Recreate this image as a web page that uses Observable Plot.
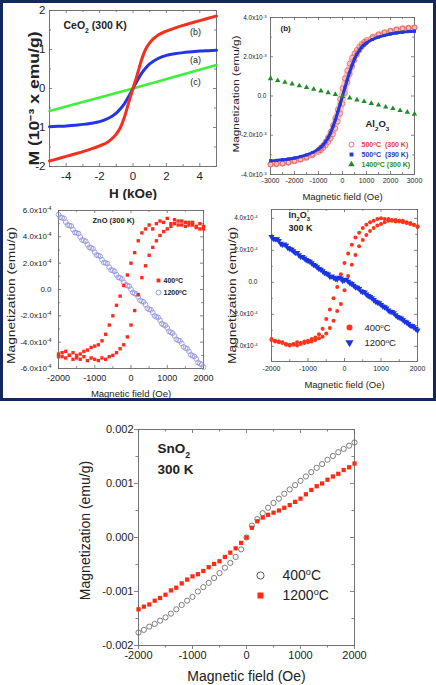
<!DOCTYPE html>
<html><head><meta charset="utf-8">
<script src="https://cdn.jsdelivr.net/npm/d3@7"></script>
<script src="https://cdn.jsdelivr.net/npm/@observablehq/plot@0.6"></script>
<style>
html,body{margin:0;padding:0;background:#fff;}
#wrap{position:relative;width:436px;height:685px;overflow:hidden;font-family:"Liberation Sans",Arial,Helvetica,sans-serif;}
#wrap svg{position:absolute;}
#box{position:absolute;left:0;top:0;width:436px;height:401px;border:3px solid #15285e;box-sizing:border-box;z-index:5;pointer-events:none;}
</style></head><body><div id="wrap"><div id="box"></div></div>
<script>
// ---------------- DATA ----------------
// (1) CeO2 (300 K): H in kOe, M in 1e-3 emu/g
const ceoField   = [-5,-4.5,-4,-3.5,-3,-2.5,-2,-1.5,-1,-0.75,-0.5,-0.25,0,0.25,0.5,0.75,1,1.5,2,2.5,3,3.5,4,4.5,5];
const ceoSampleB = [-1.86,-1.8,-1.74,-1.68,-1.62,-1.55,-1.47,-1.37,-1.17,-1.0,-0.72,-0.35,0,0.35,0.72,1.0,1.17,1.37,1.47,1.55,1.62,1.68,1.74,1.8,1.86];
const ceoSampleA = [-0.98,-0.97,-0.96,-0.94,-0.92,-0.89,-0.85,-0.77,-0.63,-0.52,-0.38,-0.2,0,0.2,0.38,0.52,0.63,0.77,0.85,0.89,0.92,0.94,0.96,0.97,0.98];
const ceoLinField = [-5,-2.5,0,2.5,5];
const ceoSampleC  = [-0.58,-0.29,0,0.3,0.6];
const ceoXTicks = [-4,-2,0,2,4];
const ceoXMinor = [-3,-1,1,3];
const ceoYTicks = [-2,-1,0,1,2];
const ceoYMinor = [-1.5,-0.5,0.5,1.5];

// (2) Al2O3: field in Oe, M in 1e-3 emu/g
const alField = [-3000,-2750,-2500,-2250,-2000,-1750,-1500,-1250,-1000,-900,-800,-700,-600,-500,-400,-300,-200,-100,0,100,200,300,400,500,600,700,800,900,1000,1250,1500,1750,2000,2250,2500,2750,3000];
const al500Down = [-3.48,-3.45,-3.42,-3.37,-3.3,-3.22,-3.1,-2.95,-2.75,-2.63,-2.5,-2.32,-2.1,-1.83,-1.5,-1.12,-0.7,-0.15,0.4,0.9,1.3,1.65,1.95,2.17,2.35,2.52,2.65,2.76,2.85,3.02,3.15,3.25,3.33,3.4,3.45,3.48,3.5];
const al500Up   = [-3.5,-3.48,-3.45,-3.4,-3.33,-3.25,-3.15,-3.02,-2.85,-2.76,-2.65,-2.52,-2.35,-2.17,-1.95,-1.65,-1.3,-0.9,-0.4,0.15,0.7,1.12,1.5,1.83,2.1,2.32,2.5,2.63,2.75,2.95,3.1,3.22,3.3,3.37,3.42,3.45,3.48];
const al390     = [-3.3,-3.28,-3.25,-3.21,-3.16,-3.09,-3.0,-2.88,-2.7,-2.6,-2.48,-2.32,-2.12,-1.88,-1.57,-1.22,-0.83,-0.42,0,0.42,0.83,1.22,1.57,1.88,2.12,2.32,2.48,2.6,2.7,2.88,3.0,3.09,3.16,3.21,3.25,3.28,3.3];
const alTriField = [-3000,-2700,-2400,-2100,-1800,-1500,-1200,-900,-600,-300,0,300,600,900,1200,1500,1800,2100,2400,2700,3000];
const al1400     = [0.88,0.79,0.7,0.62,0.52,0.44,0.35,0.26,0.17,0.08,-0.02,-0.1,-0.2,-0.28,-0.38,-0.46,-0.56,-0.64,-0.74,-0.82,-0.92];
const alXTicks = [-3000,-2000,-1000,0,1000,2000,3000];
const alXMinor = [-2500,-1500,-500,500,1500,2500];
const alYTicks = [-4,-2,0,2,4];
const alYLabels = ["-4.0x10^{-3}","-2.0x10^{-3}","0.0","2.0x10^{-3}","4.0x10^{-3}"];
const alYMinor = [-3,-1,1,3];
const alLegend = ["500^{o}C  (300 K)","500^{o}C  (390 K)","1400^{o}C (300 K)"];

// shared field grids (Oe)
const field41 = [-2000,-1900,-1800,-1700,-1600,-1500,-1400,-1300,-1200,-1100,-1000,-900,-800,-700,-600,-500,-400,-300,-200,-100,0,100,200,300,400,500,600,700,800,900,1000,1100,1200,1300,1400,1500,1600,1700,1800,1900,2000];
const field40 = [-1950,-1850,-1750,-1650,-1550,-1450,-1350,-1250,-1150,-1050,-950,-850,-750,-650,-550,-450,-350,-250,-150,-50,50,150,250,350,450,550,650,750,850,950,1050,1150,1250,1350,1450,1550,1650,1750,1850,1950];

// (3) ZnO (300 K): M in 1e-4 emu/g
const zn1200a = [5.7,5.45,5.12,4.86,4.55,4.3,3.98,3.72,3.4,3.16,2.84,2.58,2.26,2.02,1.7,1.45,1.12,0.88,0.55,0.3,0.02,-0.3,-0.57,-0.9,-1.16,-1.5,-1.75,-2.08,-2.34,-2.68,-2.93,-3.27,-3.52,-3.86,-4.1,-4.45,-4.7,-5.04,-5.28,-5.63,-5.9];
const zn1200b = [5.48,5.4,4.9,4.82,4.33,4.25,3.76,3.66,3.2,3.1,2.62,2.52,2.05,1.96,1.48,1.38,0.92,0.8,0.35,0.25,-0.22,-0.35,-0.82,-0.95,-1.42,-1.55,-2.0,-2.12,-2.6,-2.72,-3.18,-3.32,-3.78,-3.9,-4.36,-4.5,-4.95,-5.08,-5.55,-5.7];
const zn400Down = [-4.9,-5.1,-4.7,-5.0,-4.8,-5.2,-4.9,-4.7,-4.6,-4.4,-4.3,-4.2,-3.9,-3.4,-2.7,-2.0,-1.2,-0.5,0.3,1.1,2.0,2.8,3.7,4.3,4.6,4.9,4.6,5.0,5.2,5.1,5.4,5.0,5.3,4.9,5.2,4.8,5.1,4.9,4.7,5.0,4.6];
const zn400Up   = [-5.1,-4.8,-5.2,-5.0,-5.3,-5.0,-5.3,-5.1,-5.4,-5.2,-5.3,-5.4,-5.2,-5.3,-5.1,-5.0,-4.8,-4.5,-4.2,-3.6,-2.7,-1.6,-0.4,0.9,1.8,2.6,3.2,3.7,4.1,4.4,4.6,4.8,5.0,5.2,4.9,5.1,4.9,5.1,4.8,4.6,4.8];
const oeTicks = [-2000,-1000,0,1000,2000];
const oeMinor = [-1500,-500,500,1500];
const znYTicks = [-6,-4,-2,0,2,4,6];
const znYLabels = ["-6.0x10^{-4}","-4.0x10^{-4}","-2.0x10^{-4}","0.0","2.0x10^{-4}","4.0x10^{-4}","6.0x10^{-4}"];
const znYMinor = [-5,-3,-1,1,3,5];
const tempLegend = ["400^{o}C","1200^{o}C"];

// (4) In2O3 (300 K): M in 1e-4 emu/g
const in1200a = [2.85,2.7,2.6,2.35,2.3,2.1,1.95,1.85,1.6,1.5,1.35,1.2,1.05,0.85,0.7,0.55,0.35,0.3,0.2,0.25,0.15,0.05,-0.1,-0.3,-0.4,-0.6,-0.75,-0.9,-1.1,-1.25,-1.4,-1.55,-1.75,-1.85,-2.05,-2.2,-2.35,-2.5,-2.7,-2.8,-3.0];
const in1200b = [2.72,2.7,2.42,2.38,2.15,2.05,1.85,1.7,1.6,1.4,1.3,1.1,0.95,0.8,0.6,0.5,0.38,0.22,0.3,0.1,0.18,-0.05,-0.2,-0.32,-0.55,-0.62,-0.85,-0.98,-1.2,-1.3,-1.5,-1.62,-1.82,-1.92,-2.15,-2.25,-2.45,-2.6,-2.72,-2.9];
const in400Down = [-3.6,-3.65,-3.7,-3.75,-3.85,-3.9,-3.85,-3.75,-3.8,-3.7,-3.65,-3.55,-3.45,-3.25,-2.9,-2.3,-1.7,-1.0,-0.3,0.5,1.2,1.8,2.35,2.8,3.1,3.4,3.6,3.75,3.85,3.95,4.0,3.95,3.95,3.9,3.8,3.85,3.75,3.7,3.65,3.6,3.5];
const in400Up   = [-3.55,-3.7,-3.75,-3.8,-3.9,-3.95,-3.9,-3.95,-3.85,-3.8,-3.75,-3.7,-3.6,-3.5,-3.4,-3.2,-2.85,-2.4,-1.8,-1.35,-0.5,0.4,1.1,1.7,2.25,2.65,2.95,3.2,3.4,3.55,3.65,3.75,3.85,3.85,3.9,3.8,3.85,3.75,3.7,3.6,3.45];
const inYTicks = [-4,-2,0,2,4];
const inYLabels = ["-4.0x10^{-4}","-2.0x10^{-4}","0.0","2.0x10^{-4}","4.0x10^{-4}"];
const inYMinor = [-3,-1,1,3];

// (5) SnO2 (300 K): M in 1e-3 emu/g
const sn400  = [-1.76,-1.71,-1.65,-1.6,-1.54,-1.48,-1.41,-1.33,-1.25,-1.17,-1.1,-1.0,-0.92,-0.84,-0.75,-0.66,-0.56,-0.47,-0.36,-0.22,0.0,0.22,0.34,0.45,0.55,0.64,0.72,0.81,0.89,0.97,1.05,1.13,1.21,1.29,1.36,1.44,1.51,1.58,1.64,1.7,1.76];
const sn1200 = [-1.33,-1.28,-1.24,-1.17,-1.12,-1.06,-0.98,-0.93,-0.85,-0.78,-0.72,-0.68,-0.62,-0.55,-0.49,-0.44,-0.36,-0.28,-0.2,-0.1,0.0,0.18,0.3,0.37,0.42,0.46,0.5,0.55,0.6,0.66,0.72,0.8,0.88,0.95,1.0,1.07,1.13,1.18,1.25,1.3,1.37];
const snYTicks = [-2,-1,0,1,2];
const snYLabels = ["-0.002","-0.001","0.000","0.001","0.002"];
const snYMinor = [-1.5,-0.5,0.5,1.5];

// ---------------- HELPERS ----------------
const FONT = '"Liberation Sans", Arial, Helvetica, sans-serif';
const INK = "#222";
const FRAME = "#666";
const SVGNS = "http://www.w3.org/2000/svg";
const rows = (xs, ys) => xs.map((x, i) => ({x, y: ys[i]}));
const triDown = {draw(ctx, size) {
  const r = Math.sqrt(size / 1.299);
  ctx.moveTo(0, r); ctx.lineTo(r * 0.866, -r / 2); ctx.lineTo(-r * 0.866, -r / 2); ctx.closePath();
}};

function frameTicks(t, w, h) {
  const st = {stroke: FRAME, strokeWidth: 0.8};
  const m = [];
  for (const [xs, len] of [[t.xMajor, t.major], [t.xMinor, t.minor]]) {
    if (!xs || !xs.length) continue;
    m.push(t.outward
      ? Plot.tickX(xs, {x: d => d, insetTop: h, insetBottom: -len, ...st})
      : Plot.tickX(xs, {x: d => d, insetTop: h - len, ...st}));
    m.push(Plot.tickX(xs, {x: d => d, insetBottom: h - len, ...st}));
  }
  for (const [ys, len] of [[t.yMajor, t.major], [t.yMinor, t.minor]]) {
    if (!ys || !ys.length) continue;
    m.push(t.outward
      ? Plot.tickY(ys, {y: d => d, insetRight: w, insetLeft: -len, ...st})
      : Plot.tickY(ys, {y: d => d, insetRight: w - len, ...st}));
    m.push(Plot.tickY(ys, {y: d => d, insetLeft: w - len, ...st}));
  }
  return m;
}
const note = (s, o) => Plot.text([s], {text: d => d, fill: INK, lineAnchor: "middle", textAnchor: "middle", ...o});
const xLabels = (vals, fs, dy) => Plot.text(vals, {x: d => d, frameAnchor: "bottom", dy, lineAnchor: "middle", textAnchor: "middle", text: d => String(d), fontSize: fs, fill: INK});
const yLabels = (vals, labels, fs, dx) => Plot.text(vals, {y: d => d, frameAnchor: "left", dx, textAnchor: "end", lineAnchor: "middle", text: (d, i) => labels ? labels[i] : String(d), fontSize: fs, fill: INK});
const marker = (o) => Plot.dot([0], {frameAnchor: "top-left", ...o});

function richify(svg) {
  svg.querySelectorAll("text").forEach(t => {
    const s = t.textContent;
    if (!/[\^_]\{/.test(s)) return;
    while (t.firstChild) t.removeChild(t.firstChild);
    const re = /([\^_])\{([^}]*)\}/g; let last = 0, m;
    while ((m = re.exec(s))) {
      if (m.index > last) t.appendChild(document.createTextNode(s.slice(last, m.index)));
      const ts = document.createElementNS(SVGNS, "tspan");
      ts.setAttribute("baseline-shift", m[1] === "^" ? "super" : "sub");
      ts.setAttribute("font-size", "65%");
      ts.textContent = m[2];
      t.appendChild(ts);
      last = re.lastIndex;
    }
    if (last < s.length) t.appendChild(document.createTextNode(s.slice(last)));
  });
}
function stretch(svg, map) {
  svg.querySelectorAll("text").forEach(t => {
    const L = map[t.textContent];
    if (L) {
      t.setAttribute("textLength", L);
      t.setAttribute("lengthAdjust", "spacingAndGlyphs");
      t.setAttribute("text-anchor", "start");
      t.setAttribute("x", -L / 2);
    }
  });
}
function panel(cfg) {
  const [mt, mr, mb, ml] = cfg.margin;
  const w = cfg.width - ml - mr, h = cfg.height - mt - mb;
  const svg = Plot.plot({
    width: cfg.width, height: cfg.height,
    marginTop: mt, marginRight: mr, marginBottom: mb, marginLeft: ml,
    x: {domain: cfg.x, axis: null}, y: {domain: cfg.y, axis: null},
    style: {background: "transparent", fontFamily: FONT, color: INK},
    marks: [...frameTicks(cfg.ticks, w, h), Plot.frame({stroke: FRAME, strokeWidth: 0.9}), ...cfg.marks]
  });
  svg.style.left = cfg.left + "px";
  svg.style.top = cfg.top + "px";
  svg.style.position = "absolute";
  if (cfg.stretch) stretch(svg, cfg.stretch);
  richify(svg);
  document.getElementById("wrap").appendChild(svg);
}

// ---------------- PANEL 1: CeO2 ----------------
panel({
  left: 0, top: 0, width: 218, height: 200, margin: [10, 2, 34, 49],
  x: [-5, 5], y: [-2, 2],
  ticks: {xMajor: ceoXTicks, xMinor: ceoXMinor, yMajor: ceoYTicks, yMinor: ceoYMinor, major: 3, minor: 2},
  stretch: {"M (10\u207B\u00B3 x emu/g)": 134},
  marks: [
    Plot.line(rows(ceoLinField, ceoSampleC), {x: "x", y: "y", stroke: "#3ef03e", strokeWidth: 2.6}),
    Plot.line(rows(ceoField, ceoSampleA), {x: "x", y: "y", stroke: "#2434e6", strokeWidth: 3, curve: "monotone-x"}),
    Plot.line(rows(ceoField, ceoSampleB), {x: "x", y: "y", stroke: "#f2301e", strokeWidth: 3, curve: "monotone-x"}),
    xLabels(ceoXTicks, 11.5, 10),
    yLabels(ceoYTicks, null, 11.5, -4),
    note("H (kOe)", {frameAnchor: "bottom", dy: 27, fontSize: 13.5, fontWeight: "bold"}),
    note("M (10\u207B\u00B3 x emu/g)", {frameAnchor: "left", dx: -15, dy: 10, rotate: -90, fontSize: 14, fontWeight: "bold"}),
    note("CeO_{2} (300 K)", {frameAnchor: "top-left", dx: 14, dy: 15, textAnchor: "start", fontSize: 10.5, fontWeight: "bold"}),
    note("(b)", {frameAnchor: "top-left", dx: 146, dy: 22, fontSize: 9}),
    note("(a)", {frameAnchor: "top-left", dx: 146, dy: 50, fontSize: 9}),
    note("(c)", {frameAnchor: "top-left", dx: 146, dy: 72, fontSize: 9})
  ]
});

// ---------------- PANEL 2: Al2O3 ----------------
panel({
  left: 218, top: 0, width: 218, height: 205, margin: [17, 22, 31, 52],
  x: [-3000, 3000], y: [-4, 4],
  ticks: {xMajor: alXTicks, xMinor: alXMinor, yMajor: alYTicks, yMinor: alYMinor, major: 3, minor: 1.8},
  stretch: {"Magnetization (emu/g)": 117},
  marks: [
    Plot.line(rows(alField, al500Down), {x: "x", y: "y", stroke: "#f6c2c2", strokeWidth: 4.5, curve: "monotone-x"}),
    Plot.line(rows(alField, al500Up), {x: "x", y: "y", stroke: "#f6c2c2", strokeWidth: 4.5, curve: "monotone-x"}),
    Plot.dot(rows(alField, al500Down), {x: "x", y: "y", r: 2.5, stroke: "#e46464", strokeWidth: 0.8, fill: "none"}),
    Plot.dot(rows(alField, al500Up), {x: "x", y: "y", r: 2.5, stroke: "#e46464", strokeWidth: 0.8, fill: "none"}),
    Plot.line(rows(alField, al390), {x: "x", y: "y", stroke: "#2338d8", strokeWidth: 3, curve: "monotone-x"}),
    Plot.dot(rows(alField, al390), {x: "x", y: "y", r: 1.7, symbol: "square", fill: "#2338d8"}),
    Plot.dot(rows(alTriField, al1400), {x: "x", y: "y", r: 2, symbol: "triangle", fill: "#1f8a2a"}),
    xLabels(alXTicks, 7, 6),
    yLabels(alYTicks, alYLabels, 6.5, -4),
    note("Magnetic field (Oe)", {frameAnchor: "bottom", dy: 22, fontSize: 9.5}),
    note("Magnetization (emu/g)", {frameAnchor: "left", dx: -35, dy: -2, rotate: -90, fontSize: 9.5}),
    note("(b)", {frameAnchor: "top-left", dx: 10, dy: 11, textAnchor: "start", fontSize: 8, fontWeight: "bold"}),
    note("Al_{2}O_{3}", {frameAnchor: "top-left", dx: 95, dy: 106, textAnchor: "start", fontSize: 9.5, fontWeight: "bold"}),
    marker({dx: 81, dy: 127, r: 2.5, stroke: "#e46464", fill: "none", strokeWidth: 0.9}),
    marker({dx: 81, dy: 137, r: 2.2, symbol: "square", fill: "#2338d8"}),
    marker({dx: 81, dy: 147, r: 2.4, symbol: "triangle", fill: "#1f8a2a"}),
    note(alLegend[0], {frameAnchor: "top-left", dx: 91, dy: 127, textAnchor: "start", fontSize: 7, fontWeight: "bold", fill: "#e83a3a"}),
    note(alLegend[1], {frameAnchor: "top-left", dx: 91, dy: 137, textAnchor: "start", fontSize: 7, fontWeight: "bold", fill: "#2338c8"}),
    note(alLegend[2], {frameAnchor: "top-left", dx: 91, dy: 147, textAnchor: "start", fontSize: 7, fontWeight: "bold", fill: "#1f8a2a"})
  ]
});

// ---------------- PANEL 3: ZnO ----------------
panel({
  left: 0, top: 200, width: 218, height: 200, margin: [10, 15, 32, 58],
  x: [-2000, 2000], y: [-6, 6],
  ticks: {xMajor: oeTicks, xMinor: oeMinor, yMajor: znYTicks, yMinor: znYMinor, major: 3, minor: 1.8},
  stretch: {"Magnetization (emu/g)": 137},
  marks: [
    Plot.dot(rows(field41, zn1200a), {x: "x", y: "y", r: 2.4, stroke: "#8d90de", strokeWidth: 0.8, fill: "none"}),
    Plot.dot(rows(field40, zn1200b), {x: "x", y: "y", r: 2.4, stroke: "#8d90de", strokeWidth: 0.8, fill: "none"}),
    Plot.dot(rows(field41, zn400Down), {x: "x", y: "y", r: 1.9, symbol: "square", fill: "#ff2a1a"}),
    Plot.dot(rows(field41, zn400Up), {x: "x", y: "y", r: 1.9, symbol: "square", fill: "#ff2a1a"}),
    xLabels(oeTicks, 9, 10),
    yLabels(znYTicks, znYLabels, 8, -7),
    note("Magnetic field (Oe)", {frameAnchor: "bottom", dy: 25.5, fontSize: 9.5}),
    note("Magnetization (emu/g)", {frameAnchor: "left", dx: -47, dy: 6, rotate: -90, fontSize: 10}),
    note("ZnO (300 K)", {frameAnchor: "top-left", dx: 34, dy: 10, textAnchor: "start", fontSize: 7.5, fontWeight: "bold"}),
    marker({dx: 100, dy: 70, r: 2.2, symbol: "square", fill: "#ff2a1a"}),
    marker({dx: 100, dy: 82, r: 2.5, stroke: "#8d90de", fill: "none", strokeWidth: 0.9}),
    note(tempLegend[0], {frameAnchor: "top-left", dx: 105, dy: 70, textAnchor: "start", fontSize: 7, fontWeight: "bold"}),
    note(tempLegend[1], {frameAnchor: "top-left", dx: 105, dy: 82, textAnchor: "start", fontSize: 7, fontWeight: "bold"})
  ]
});

// ---------------- PANEL 4: In2O3 ----------------
panel({
  left: 218, top: 200, width: 218, height: 200, margin: [9, 19, 39, 53],
  x: [-2000, 2000], y: [-4.95, 4.55],
  ticks: {xMajor: oeTicks, xMinor: oeMinor, yMajor: inYTicks, yMinor: inYMinor, major: 3, minor: 1.8},
  stretch: {"Magnetization (emu/g)": 137},
  marks: [
    Plot.dot(rows(field41, in1200a), {x: "x", y: "y", r: 2.3, symbol: triDown, fill: "#1a35e0"}),
    Plot.dot(rows(field40, in1200b), {x: "x", y: "y", r: 2.3, symbol: triDown, fill: "#1a35e0"}),
    Plot.dot(rows(field41, in400Down), {x: "x", y: "y", r: 2, fill: "#ff3318"}),
    Plot.dot(rows(field41, in400Up), {x: "x", y: "y", r: 2, fill: "#ff3318"}),
    xLabels(oeTicks, 7, 7),
    yLabels(inYTicks, inYLabels, 6.5, -14),
    note("Magnetic field (Oe)", {frameAnchor: "bottom", dy: 23, fontSize: 9.5}),
    note("Magnetization (emu/g)", {frameAnchor: "left", dx: -39, dy: 10, rotate: -90, fontSize: 10}),
    note("In_{2}O_{3}", {frameAnchor: "top-left", dx: 17, dy: 6, textAnchor: "start", fontSize: 9, fontWeight: "bold"}),
    note("300 K", {frameAnchor: "top-left", dx: 17, dy: 19, textAnchor: "start", fontSize: 9, fontWeight: "bold"}),
    marker({dx: 78, dy: 118, r: 3, fill: "#ff3318"}),
    marker({dx: 78, dy: 133, r: 3, symbol: triDown, fill: "#1a35e0"}),
    note(tempLegend[0], {frameAnchor: "top-left", dx: 93, dy: 118, textAnchor: "start", fontSize: 9.5}),
    note(tempLegend[1], {frameAnchor: "top-left", dx: 93, dy: 133, textAnchor: "start", fontSize: 9.5})
  ]
});

// ---------------- PANEL 5: SnO2 ----------------
panel({
  left: 0, top: 405, width: 436, height: 280, margin: [24, 82, 40, 138],
  x: [-2000, 2000], y: [-2, 2],
  ticks: {xMajor: oeTicks, xMinor: oeMinor, yMajor: snYTicks, yMinor: snYMinor, major: 4, minor: 2.5, outward: true},
  marks: [
    Plot.dot(rows(field41, sn400), {x: "x", y: "y", r: 2.6, stroke: "#5e5e5e", strokeWidth: 0.8, fill: "none"}),
    Plot.dot(rows(field41, sn1200), {x: "x", y: "y", r: 2.4, symbol: "square", fill: "#ff2a12"}),
    xLabels(oeTicks, 11, 10),
    yLabels(snYTicks, snYLabels, 11, -5),
    note("Magnetic field (Oe)", {frameAnchor: "bottom", dy: 31, fontSize: 14}),
    note("Magnetization (emu/g)", {frameAnchor: "left", dx: -53, dy: -7, rotate: -90, fontSize: 14}),
    note("SnO_{2}", {frameAnchor: "top-left", dx: 19, dy: 19, textAnchor: "start", fontSize: 13.5, fontWeight: "bold"}),
    note("300 K", {frameAnchor: "top-left", dx: 19, dy: 40, textAnchor: "start", fontSize: 13.5, fontWeight: "bold"}),
    marker({dx: 122, dy: 146, r: 3.6, stroke: "#444", fill: "none", strokeWidth: 0.9}),
    marker({dx: 122, dy: 166, r: 3.4, symbol: "square", fill: "#ff2a12"}),
    note(tempLegend[0], {frameAnchor: "top-left", dx: 144, dy: 146, textAnchor: "start", fontSize: 14}),
    note(tempLegend[1], {frameAnchor: "top-left", dx: 144, dy: 166, textAnchor: "start", fontSize: 14})
  ]
});
</script></body></html>
